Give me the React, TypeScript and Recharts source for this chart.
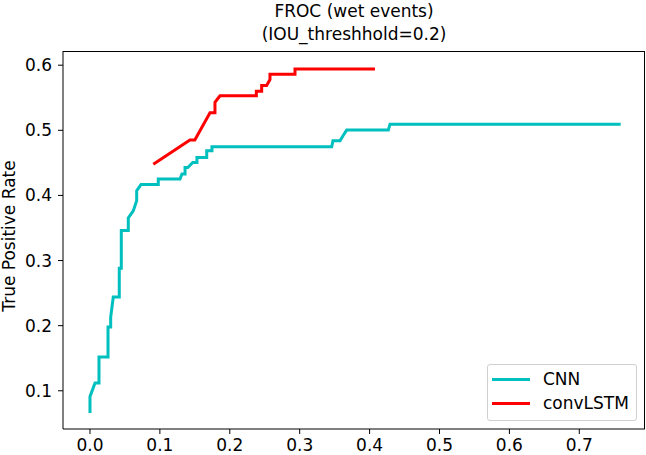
import React from "react";
import { LineChart, Line, XAxis, YAxis } from "recharts";

const cnnX = [0, 0, 0.0072, 0.0129, 0.0129, 0.0258, 0.0258, 0.0296, 0.0296, 0.0333, 0.0419, 0.0419, 0.0448, 0.0448, 0.0548, 0.0548, 0.0619, 0.0668, 0.0668, 0.073, 0.0977, 0.0977, 0.1288, 0.1316, 0.136, 0.136, 0.14, 0.147, 0.153, 0.153, 0.167, 0.167, 0.1745, 0.1745, 0.3458, 0.3476, 0.3577, 0.362, 0.3672, 0.4268, 0.4292, 0.7592];
const cnnY = [0.066, 0.091, 0.112, 0.112, 0.152, 0.152, 0.198, 0.198, 0.213, 0.244, 0.244, 0.288, 0.288, 0.346, 0.346, 0.3655, 0.3763, 0.392, 0.4073, 0.4166, 0.4166, 0.4253, 0.4253, 0.433, 0.433, 0.443, 0.443, 0.4507, 0.4507, 0.4583, 0.4583, 0.4686, 0.4686, 0.4747, 0.4747, 0.4839, 0.4839, 0.4916, 0.5003, 0.5003, 0.5095, 0.5095];

const lstmX = [0.0906, 0.143, 0.15, 0.1717, 0.1788, 0.1788, 0.186, 0.238, 0.238, 0.2456, 0.2456, 0.2527, 0.2575, 0.2575, 0.2933, 0.2933, 0.4077];
const lstmY = [0.448, 0.485, 0.485, 0.527, 0.527, 0.543, 0.553, 0.553, 0.56, 0.56, 0.569, 0.569, 0.578, 0.586, 0.586, 0.594, 0.594];

const xTicks = [0, 0.1, 0.2, 0.3, 0.4, 0.5, 0.6, 0.7];
const yTicks = [0.1, 0.2, 0.3, 0.4, 0.5, 0.6];
const titleLines = ["FROC (wet events)", "(IOU_threshhold=0.2)"];
const yLabel = "True Positive Rate";
const seriesNames = ["CNN", "convLSTM"];
const seriesColors = ["#00bfbf", "#ff0000"];

const cnnData = cnnX.map((x, i) => ({ x, y: cnnY[i] }));
const lstmData = lstmX.map((x, i) => ({ x, y: lstmY[i] }));

const FONT = "'DejaVu Sans', sans-serif";
const FS = 17;
const tickStyle = { fontFamily: FONT, fontSize: FS, fill: "#000" };

export default function App() {
  return (
    <div style={{ position: "absolute", left: 0, top: 0, width: 646, height: 455, background: "#fff", fontFamily: FONT, overflow: "hidden" }}>
      <LineChart width={646} height={455} margin={{ top: 51, right: 1, bottom: 0, left: 0 }}>
        <XAxis
          dataKey="x"
          type="number"
          domain={[-0.0386, 0.794]}
          ticks={xTicks}
          allowDataOverflow
          tickFormatter={(v: number) => v.toFixed(1)}
          height={26}
          tickSize={5}
          tickMargin={5}
          tick={tickStyle}
          axisLine={{ stroke: "#000", strokeWidth: 1 }}
          tickLine={{ stroke: "#000" }}
        />
        <YAxis
          type="number"
          domain={[0.0413, 0.6218]}
          ticks={yTicks}
          allowDataOverflow
          tickFormatter={(v: number) => v.toFixed(1)}
          width={63}
          tickSize={5}
          tickMargin={6}
          tick={tickStyle}
          axisLine={{ stroke: "#000", strokeWidth: 1 }}
          tickLine={{ stroke: "#000" }}
        />
        <Line data={cnnData} dataKey="y" type="linear" stroke={seriesColors[0]} strokeWidth={3} dot={false} isAnimationActive={false} name={seriesNames[0]} />
        <Line data={lstmData} dataKey="y" type="linear" stroke={seriesColors[1]} strokeWidth={3} dot={false} isAnimationActive={false} name={seriesNames[1]} />
      </LineChart>
      <div style={{ position: "absolute", left: 63, top: 51, width: 582, height: 378, borderTop: "1px solid #000", borderRight: "1px solid #000", boxSizing: "border-box", pointerEvents: "none" }} />
      <div style={{ position: "absolute", left: 63, width: 582, top: 0, textAlign: "center", fontSize: FS, lineHeight: "23px", color: "#000" }}>
        {titleLines.map((t) => (
          <div key={t}>{t}</div>
        ))}
      </div>
      <div style={{ position: "absolute", left: 9, top: 236, width: 0, height: 0 }}>
        <div style={{ position: "absolute", transform: "translate(-50%, -50%) rotate(-90deg)", whiteSpace: "nowrap", fontSize: FS, color: "#000" }}>{yLabel}</div>
      </div>
      <div style={{ position: "absolute", left: 487, top: 364, width: 150, height: 57, border: "1px solid #d0d0d0", borderRadius: 3, background: "rgba(255,255,255,0.8)", boxSizing: "border-box" }}>
        {seriesNames.map((n, i) => (
          <div key={n} style={{ position: "absolute", left: 4, top: 3 + i * 24, height: 22, display: "flex", alignItems: "center" }}>
            <div style={{ width: 38, height: 3, background: seriesColors[i] }} />
            <div style={{ marginLeft: 13, fontSize: FS, color: "#000" }}>{n}</div>
          </div>
        ))}
      </div>
    </div>
  );
}
